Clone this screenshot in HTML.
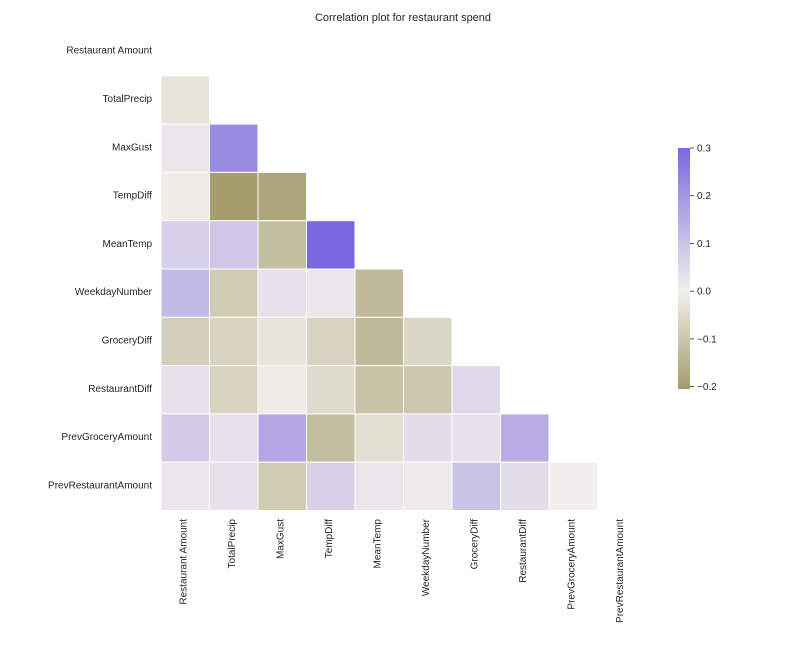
<!DOCTYPE html>
<html><head><meta charset="utf-8"><style>
body{margin:0;background:#fff;font-family:"Liberation Sans",sans-serif;}
svg text{font-family:"Liberation Sans",sans-serif;fill:#262626;}
</style></head><body>
<svg id="chart" width="792" height="648">
<text x="403" y="21" font-size="11" text-anchor="middle">Correlation plot for restaurant spend</text>
<g id="cells"></g><g id="labels"></g><g id="cbar"></g>
</svg>
<script>
const labels=["Restaurant Amount","TotalPrecip","MaxGust","TempDiff","MeanTemp","WeekdayNumber","GroceryDiff","RestaurantDiff","PrevGroceryAmount","PrevRestaurantAmount"];
const corrRows=[
[],
[-0.03],
[0.02,0.22],
[-0.01,-0.2,-0.18],
[0.07,0.09,-0.12,0.3],
[0.12,-0.09,0.03,0.02,-0.13],
[-0.08,-0.07,-0.03,-0.07,-0.13,-0.06],
[0.03,-0.07,-0.01,-0.05,-0.11,-0.1,0.05],
[0.08,0.03,0.16,-0.12,-0.04,0.04,0.03,0.15],
[0.02,0.03,-0.09,0.07,0.02,0.01,0.1,0.04,0.0]];
const cbarTicks=[0.3,0.2,0.1,0.0,-0.1,-0.2];
const vmin=-0.205,vmax=0.3;
const NS="http://www.w3.org/2000/svg";
const x0=161,y0=27.5,cw=48.5,ch=48.3;
const xs=i=>x0+i*cw, ys=i=>y0+i*ch;
function lerp(a,b,t){return a.map((v,i)=>Math.round(v+(b[i]-v)*t));}
const neg=[164,155,107],mid=[242,240,236],pos=[123,104,224];
function color(v){let c=v<0?lerp(mid,neg,Math.min(1,v/vmin)):lerp(mid,pos,Math.min(1,v/vmax));return `rgb(${c})`;}
const cells=document.getElementById('cells');
corrRows.forEach((row,r)=>row.forEach((v,c)=>{
 const e=document.createElementNS(NS,'rect');
 e.setAttribute('x',xs(c));e.setAttribute('y',ys(r));e.setAttribute('width',cw);e.setAttribute('height',ch);
 e.setAttribute('fill',color(v));e.setAttribute('stroke','#fff');e.setAttribute('stroke-width','1');
 
 
 cells.appendChild(e);
}));
const lg=document.getElementById('labels');
labels.forEach((l,i)=>{
 let t=document.createElementNS(NS,'text');
 t.setAttribute('x',152);t.setAttribute('y',ys(i)+ch/2+2);t.setAttribute('font-size','10');t.setAttribute('text-anchor','end');
 t.textContent=l;
 
 
 lg.appendChild(t);
 t=document.createElementNS(NS,'text');
 const cx=xs(i)+cw/2+1;
 t.setAttribute('transform',`translate(${cx},519) rotate(-90)`);t.setAttribute('font-size','10');t.setAttribute('text-anchor','end');
 t.textContent=l;
 
 
 lg.appendChild(t);
});
const cb=document.getElementById('cbar');
const cbX=678,cbW=12,cbTop=148,cbBot=389;
const cy=v=>cbTop+(vmax-v)/(vmax-vmin)*(cbBot-cbTop);
const defs=document.createElementNS(NS,'defs');
defs.innerHTML=`<linearGradient id="g" x1="0" y1="0" x2="0" y2="1"><stop offset="0" stop-color="${color(vmax)}"/><stop offset="${(vmax/(vmax-vmin)).toFixed(3)}" stop-color="${color(0)}"/><stop offset="1" stop-color="${color(vmin)}"/></linearGradient>`;
cb.appendChild(defs);
const bar=document.createElementNS(NS,'rect');
bar.setAttribute('x',cbX);bar.setAttribute('y',cbTop);bar.setAttribute('width',cbW);bar.setAttribute('height',cbBot-cbTop);bar.setAttribute('fill','url(#g)');


cb.appendChild(bar);
cbarTicks.forEach(v=>{
 const y=cy(v);
 const ln=document.createElementNS(NS,'line');
 ln.setAttribute('x1',cbX+cbW);ln.setAttribute('x2',cbX+cbW+4);ln.setAttribute('y1',y);ln.setAttribute('y2',y);ln.setAttribute('stroke','#262626');ln.setAttribute('stroke-width','0.8');
 
 
 cb.appendChild(ln);
 const t=document.createElementNS(NS,'text');
 t.setAttribute('x',cbX+cbW+7);t.setAttribute('y',y+3.5);t.setAttribute('font-size','10');
 t.textContent=v<0?'\u2212'+Math.abs(v).toFixed(1):v.toFixed(1);
 
 
 cb.appendChild(t);
});
</script>
</body></html>
